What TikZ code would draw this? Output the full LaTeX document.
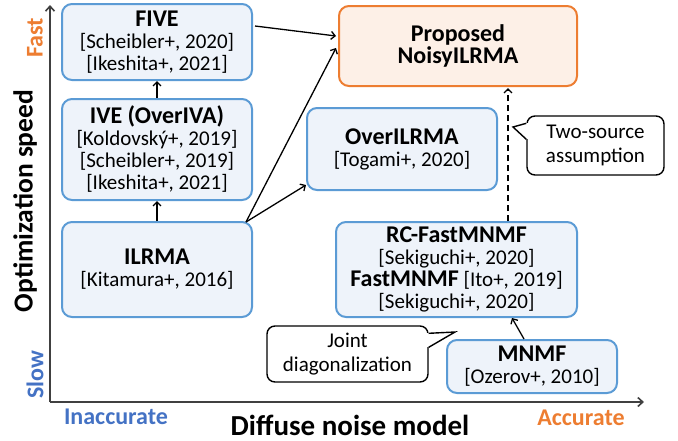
\documentclass[tikz,border=0pt]{standalone}
\usepackage{fontspec}
\setmainfont{Carlito}
\usetikzlibrary{arrows.meta,calc}
\definecolor{bbord}{HTML}{5B9BD5}
\definecolor{bfill}{HTML}{EEF3FA}
\definecolor{oborder}{HTML}{ED7D31}
\definecolor{ofill}{HTML}{FDF0E7}
\definecolor{lblue}{HTML}{4472C4}
\definecolor{lorange}{HTML}{ED7D31}
\newcommand\ttl[1]{{\fontsize{24}{24}\selectfont\bfseries #1}}
\begin{document}
\begin{tikzpicture}[x=1pt,y=-1pt,
  box/.style={draw=bbord, fill=bfill, line width=2pt, rounded corners=10pt, align=center, inner sep=0pt, font=\fontsize{21}{22}\selectfont},
  pbox/.style={box, draw=oborder, fill=ofill},
  callbox/.style={draw=black, fill=white, line width=1.4pt, rounded corners=8pt, align=center, inner sep=0pt, font=\fontsize{21}{24}\selectfont},
  ptr/.style={draw=black, line width=1.4pt, line join=miter},
  arr/.style={line width=1.3pt, -{Straight Barb[length=4pt,width=8pt]}},
  axis/.style={line width=1.6pt, draw=black!75, -{Straight Barb[length=5pt,width=9pt]}},
  lab/.style={font=\fontsize{24}{24}\selectfont\bfseries, inner sep=0pt},
  atitle/.style={font=\fontsize{27.5}{28}\selectfont\bfseries, inner sep=0pt},
]
\useasboundingbox (0,0) rectangle (678,440);

% axes
\coordinate (origin) at (50,402);
\coordinate (ytop) at (50,5);
\coordinate (xend) at (644,402);
\draw[axis] (origin) -- (ytop);
\draw[axis] (origin) -- (xend);

% axis labels
\node[lab, text=lorange, rotate=90] (fast) at (35,38) {Fast};
\node[lab, text=lblue, rotate=90] (slow) at (35,375) {Slow};
\node[atitle, rotate=90] (ylab) at (25,201) {Optimization speed};
\node[lab, text=lblue] (inacc) at (116,417) {Inaccurate};
\node[lab, text=lorange] (acc) at (581,418) {Accurate};
\node[atitle, font=\fontsize{29}{30}\selectfont\bfseries] (xlab) at (350,425) {Diffuse noise model};

% boxes
\node[box, minimum width=190pt, minimum height=76pt] (five) at (157,42)
  {\ttl{FIVE}\\{[Scheibler+, 2020]}\\{[Ikeshita+, 2021]}};
\node[box, minimum width=190pt, minimum height=101pt] (ive) at (157,149.5)
  {\ttl{IVE (OverIVA)}\\{[Koldovský+, 2019]}\\{[Scheibler+, 2019]}\\{[Ikeshita+, 2021]}};
\node[box, minimum width=190pt, minimum height=95pt] (ilrma) at (157,269.5)
  {\ttl{ILRMA}\\{[Kitamura+, 2016]}};
\node[pbox, minimum width=238pt, minimum height=80pt] (prop) at (458,46)
  {\ttl{Proposed}\\\ttl{NoisyILRMA}};
\node[box, minimum width=190pt, minimum height=82pt] (over) at (402,149)
  {\ttl{OverILRMA}\\{[Togami+, 2020]}};
\node[box, minimum width=241pt, minimum height=95pt] (rc) at (456.5,269.5)
  {\ttl{RC-FastMNMF}\\{[Sekiguchi+, 2020]}\\\ttl{FastMNMF} {[Ito+, 2019]}\\{[Sekiguchi+, 2020]}};
\node[box, minimum width=170pt, minimum height=53pt] (mnmf) at (532,366.5)
  {\ttl{MNMF}\\{[Ozerov+, 2010]}};

% callouts
\node[callbox, minimum width=137pt, minimum height=59pt] (two) at (595.5,145.5)
  {Two-source\\assumption};
\coordinate (twotip) at (513,127);
\fill[white] ([xshift=-2pt,yshift=-8pt]two.north west) rectangle ([xshift=2pt,yshift=-24pt]two.north west);
\draw[ptr] ([yshift=-8pt]two.north west) -- (twotip) -- ([yshift=-24pt]two.north west);

\node[callbox, minimum width=161pt, minimum height=56pt] (joint) at (347.5,354)
  {Joint\\diagonalization};
\coordinate (jointtip) at (455,332);
\fill[white] ([xshift=-2pt,yshift=-8pt]joint.north east) rectangle ([xshift=2pt,yshift=-22pt]joint.north east);
\draw[ptr] ([yshift=-8pt]joint.north east) -- (jointtip) -- ([yshift=-22pt]joint.north east);

% connectors
\draw[arr] (ilrma.north) -- (ive.south);
\draw[arr] (ive.north) -- (five.south);
\draw[arr] ([xshift=2pt,yshift=16pt]five.east) -- ([xshift=-2pt,yshift=10pt]prop.west);
\draw[arr] ([xshift=-7pt,yshift=-1pt]ilrma.north east) -- ([xshift=-2pt,yshift=-2pt]prop.west);
\draw[arr] ([xshift=-7pt,yshift=-1pt]ilrma.north east) -- ([yshift=6pt]over.south west);
\draw[arr] ([xshift=-8pt]mnmf.north) -- ([xshift=55.5pt]rc.south);
\draw[arr, dashed, dash pattern=on 6pt off 4pt] ([xshift=51.5pt]rc.north) -- ([xshift=50pt,yshift=-1pt]prop.south);
\end{tikzpicture}
\end{document}
